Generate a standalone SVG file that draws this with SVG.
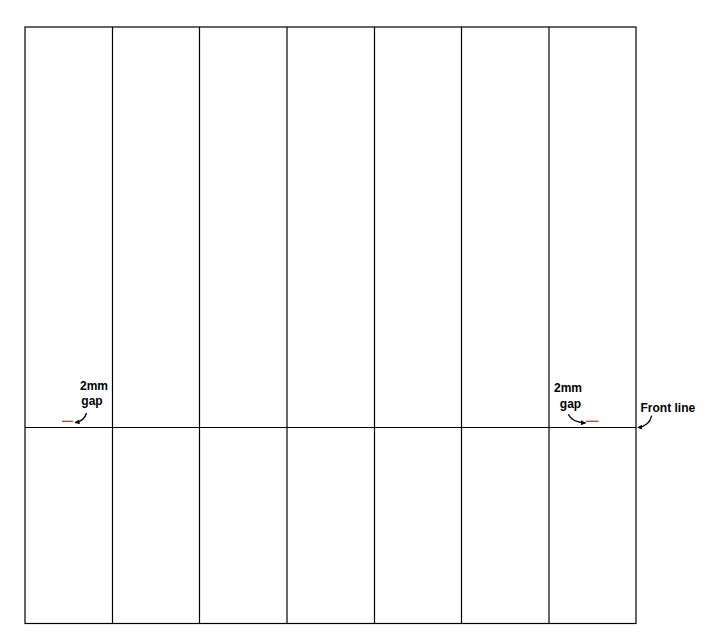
<svg xmlns="http://www.w3.org/2000/svg" width="715" height="639" viewBox="0 0 715 639">
<defs>
<style>
.g{stroke:#000;stroke-width:1.2;fill:none}
.t{font-family:"Liberation Sans",Arial,sans-serif;font-weight:bold;font-size:12px;fill:#000}
.a{stroke:#000;stroke-width:1.3;fill:none;marker-end:url(#ah)}
.r{stroke:#c0392b;stroke-width:1.3}
</style>
<marker id="ah" viewBox="0 0 10 10" refX="9" refY="5" markerWidth="5" markerHeight="5" orient="auto" markerUnits="userSpaceOnUse">
<path d="M0,0 L10,5 L0,10 Z" fill="#000"/>
</marker>
</defs>
<rect width="715" height="639" fill="#fff"/>
<g id="grid">
<rect class="g" x="25" y="27" width="611" height="596.5"/>
<line class="g" x1="112.5" y1="27" x2="112.5" y2="623.5"/>
<line class="g" x1="199.5" y1="27" x2="199.5" y2="623.5"/>
<line class="g" x1="287" y1="27" x2="287" y2="623.5"/>
<line class="g" x1="374.5" y1="27" x2="374.5" y2="623.5"/>
<line class="g" x1="461.5" y1="27" x2="461.5" y2="623.5"/>
<line class="g" x1="549" y1="27" x2="549" y2="623.5"/>
<line id="front-line" class="g" x1="25" y1="427.5" x2="636" y2="427.5"/>
</g>
<g id="gap-left">
<line class="r" x1="62" y1="421.3" x2="73" y2="421.3"/>
<text class="t" x="94" y="390" text-anchor="middle">2mm</text>
<text class="t" x="92" y="404.5" text-anchor="middle">gap</text>
</g>
<g id="gap-right">
<line class="r" x1="586" y1="421.3" x2="598.5" y2="421.3"/>
<text class="t" x="568" y="392.3" text-anchor="middle">2mm</text>
<text class="t" x="570.5" y="407.5" text-anchor="middle">gap</text>
</g>
<g id="front-label">
<text class="t" x="640.5" y="411.7">Front line</text>
</g>
<g id="connectors">
<path class="a" d="M86.5,413 Q84.5,421 75,422.7"/>
<path class="a" d="M568.3,414.3 Q572,422.5 585.5,423"/>
<path class="a" d="M651.7,415.7 Q649.5,426 637.8,427.7"/>
</g>
</svg>
